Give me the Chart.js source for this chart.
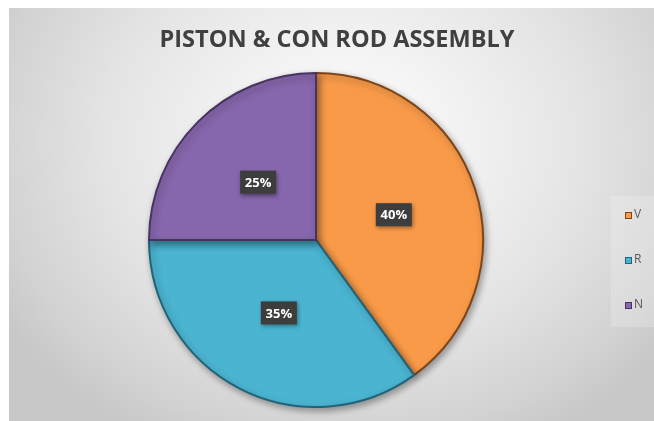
<!DOCTYPE html>
<html>
<head>
<meta charset="utf-8">
<script src="https://cdn.jsdelivr.net/npm/chart.js@4"></script>
<style>
  html, body { margin: 0; padding: 0; background: #ffffff; }
  #wrap { position: relative; width: 654px; height: 421px; overflow: hidden; }
  #bg { position: absolute; left: 9px; top: 8px; width: 645px; height: 413px;
        background: radial-gradient(ellipse 62% 82% at 52% 32%, #ffffff 0%, #f4f4f4 25%, #e4e4e4 60%, #d2d2d2 88%, #c8c8c8 100%); }
  #c { position: absolute; left: 0; top: 0; }
</style>
</head>
<body>
<div id="wrap">
  <div id="bg"></div>
  <canvas id="c" width="654" height="421"></canvas>
</div>
<script>
const chartTitle = "PISTON & CON ROD ASSEMBLY";
const categories = ["V", "R", "N"];
const values = [40, 35, 25];
const sliceColors = ["#F99A49", "#4BB4D0", "#8666AC"];
const edgeColors = ["#7e4618", "#21647a", "#45345f"];

const shadowPlugin = {
  id: 'shadow',
  beforeDatasetsDraw(chart) {
    const ctx = chart.ctx;
    ctx.save();
    ctx.shadowColor = 'rgba(0,0,0,0.35)';
    ctx.shadowBlur = 7;
    ctx.shadowOffsetX = 2;
    ctx.shadowOffsetY = 3;
  },
  afterDatasetsDraw(chart) {
    chart.ctx.restore();
  }
};

const labelPlugin = {
  id: 'sliceLabels',
  afterDatasetsDraw(chart) {
    const ctx = chart.ctx;
    const meta = chart.getDatasetMeta(0);
    const total = values.reduce((a, b) => a + b, 0);
    ctx.save();
    ctx.font = 'bold 13px "Open Sans", sans-serif';
    ctx.textAlign = 'center';
    ctx.textBaseline = 'middle';
    meta.data.forEach((arc, i) => {
      const p = arc.getProps(['x', 'y', 'startAngle', 'endAngle', 'outerRadius'], true);
      const mid = (p.startAngle + p.endAngle) / 2;
      const d = p.outerRadius * 0.49;
      const cx = p.x + Math.cos(mid) * d;
      const cy = p.y + Math.sin(mid) * d;
      const txt = Math.round(values[i] / total * 100) + '%';
      const w = 36, h = 23;
      ctx.shadowColor = 'rgba(0,0,0,0.4)';
      ctx.shadowBlur = 4;
      ctx.shadowOffsetX = 1;
      ctx.shadowOffsetY = 2;
      ctx.fillStyle = '#3d3d3d';
      ctx.fillRect(cx - w / 2, cy - h / 2, w, h);
      ctx.shadowColor = 'transparent';
      ctx.fillStyle = '#ffffff';
      ctx.fillText(txt, cx, cy + 1);
    });
    ctx.restore();
  }
};

const decorPlugin = {
  id: 'decor',
  afterDraw(chart) {
    const ctx = chart.ctx;
    ctx.save();
    // title
    ctx.font = 'bold 24px "Open Sans", sans-serif';
    ctx.fillStyle = '#404040';
    ctx.textAlign = 'center';
    ctx.textBaseline = 'alphabetic';
    ctx.fillText(chartTitle, 337, 47, 355);
    // legend box
    ctx.fillStyle = 'rgba(255,255,255,0.2)';
    ctx.fillRect(611, 196, 43, 131);
    // legend items
    ctx.font = '12px "Open Sans", sans-serif';
    ctx.textAlign = 'left';
    ctx.textBaseline = 'middle';
    categories.forEach((cat, i) => {
      const y = 215 + i * 45;
      ctx.fillStyle = sliceColors[i];
      ctx.fillRect(625, y - 3, 7, 7);
      ctx.strokeStyle = edgeColors[i];
      ctx.lineWidth = 1;
      ctx.strokeRect(625.5, y - 2.5, 6, 6);
      ctx.fillStyle = '#595959';
      ctx.fillText(cat, 634, y);
    });
    ctx.restore();
  }
};

new Chart(document.getElementById('c'), {
  type: 'pie',
  data: {
    labels: categories,
    datasets: [{
      data: values,
      backgroundColor: sliceColors,
      borderColor: edgeColors,
      borderWidth: 2
    }]
  },
  options: {
    responsive: false,
    animation: false,
    layout: { padding: { left: 148, right: 170, top: 72, bottom: 13 } },
    plugins: {
      legend: { display: false },
      title: { display: false },
      tooltip: { enabled: false }
    }
  },
  plugins: [shadowPlugin, labelPlugin, decorPlugin]
});
</script>
</body>
</html>
